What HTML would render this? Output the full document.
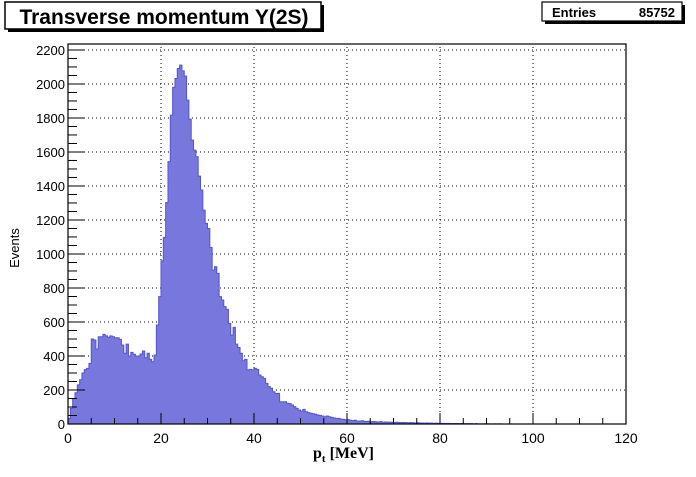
<!DOCTYPE html>
<html><head><meta charset="utf-8"><style>
body{margin:0;background:#fff;width:696px;height:472px;overflow:hidden}
svg text{font-family:"Liberation Sans",sans-serif}
</style></head><body>
<svg id="c" width="696" height="472" xmlns="http://www.w3.org/2000/svg">
<rect x="0" y="0" width="696" height="472" fill="#fff"/>
<g>
<rect x="8" y="5" width="316" height="27" fill="#000"/>
<rect x="5" y="2" width="316" height="27" fill="#fff" stroke="#000" stroke-width="1.5"/>
<text x="164" y="24" font-size="21" font-weight="bold" text-anchor="middle">Transverse momentum Y(2S)</text>
</g>
<g>
<rect x="545" y="5" width="140" height="19" fill="#000"/>
<rect x="542" y="2" width="140" height="19" fill="#fff" stroke="#000" stroke-width="1.2"/>
<text x="552" y="17" font-size="13" font-weight="bold">Entries</text>
<text x="675" y="17" font-size="13" font-weight="bold" text-anchor="end">85752</text>
</g>
<g id="plot"></g>
<text x="19" y="248" font-size="13" text-anchor="middle" transform="rotate(-90 19 248)">Events</text>
<text x="313" y="458" font-size="16" font-weight="bold" font-family="Liberation Serif,serif" style="font-family:'Liberation Serif',serif">p<tspan font-size="11" dy="4">t</tspan><tspan dy="-4"> [MeV]</tspan></text>
</svg>
<script>
const binWidth = 0.5;
const counts = [33,92,150,184,230,260,300,320,327,356,500,494,441,513,513,527,518,510,518,513,507,507,498,465,416,470,400,421,410,400,400,412,429,390,416,380,366,405,582,749,960,1098,1303,1543,1817,1980,2032,2091,2111,2077,2046,1905,1793,1670,1611,1572,1458,1376,1258,1180,1150,1039,905,925,886,749,729,690,674,592,523,568,470,450,416,372,380,318,321,318,
327,321,288,278,268,239,220,210,190,180,180,131,131,131,122,120,112,102,92,82,76,86,72,67,63,60,57,53,51,47,43,47,43,39,35,33,33,29,27,24,26,22,20,22,18,17,19,16,15,16,14,
15,13,12,14,11,12,10,11,10,9,10,9,8,9,8,7,8,7,6,7,6,6,5,6,5,5,4,5,4,4,4,3,4,3,3,3,3,2,3,2,2,2,2,1,2,1,1,1,1,1,1,0,1,0,1,0,0,0,0,0,0,0,0,0,0,0,0,0,0,0,0,0,0,0,0,0,0,0,0,0,0,0,0,0,0,0,0,0,0,0,0,0,0,0,0,0,0,0,0,0,0,0,0,0];
const xTicks = [0,20,40,60,80,100,120];
const yTicks = [0,200,400,600,800,1000,1200,1400,1600,1800,2000,2200];
const X0=68,X1=626,Y0=424,Y1=44,xMax=120,yMax=2235;
const sx=v=>X0+(v/xMax)*(X1-X0);
const sy=v=>Y0-(v/yMax)*(Y0-Y1);
const NS="http://www.w3.org/2000/svg";
const g=document.getElementById('plot');
function mk(t,a,p){const e=document.createElementNS(NS,t);for(const k in a)e.setAttribute(k,a[k]);(p||g).appendChild(e);return e;}
xTicks.forEach(v=>{if(v>0&&v<xMax){const l=mk('line',{x1:sx(v),x2:sx(v),y1:Y0,y2:Y1,stroke:'#000','stroke-dasharray':'1,3','stroke-width':1});

}});
yTicks.forEach(v=>{if(v>0){const l=mk('line',{x1:X0,x2:X1,y1:sy(v),y2:sy(v),stroke:'#000','stroke-dasharray':'1,3','stroke-width':1});

}});
let d='M'+sx(0)+','+sy(0);
counts.forEach((c,i)=>{const xa=sx(i*binWidth),xb=sx((i+1)*binWidth);d+=' L'+xa+','+sy(c)+' L'+xb+','+sy(c);});
d+=' L'+sx(counts.length*binWidth)+','+sy(0)+' Z';
const h=mk('path',{d:d,fill:'#7777dd',stroke:'#5555cc','stroke-width':1});


const f=mk('rect',{x:X0,y:Y1,width:X1-X0,height:Y0-Y1,fill:'none',stroke:'#000','stroke-width':1.2});


for(let v=0;v<=xMax;v+=5){const maj=v%20===0;mk('line',{x1:sx(v),x2:sx(v),y1:Y0,y2:Y0-(maj?11:6),stroke:'#000'});}
xTicks.forEach(v=>{const t=mk('text',{x:sx(v),y:Y0+19,'font-size':14,'text-anchor':'middle'});t.textContent=v;

});
for(let v=0;v<=2200;v+=50){const maj=v%200===0;mk('line',{x1:X0,x2:X0+(maj?17:9),y1:sy(v),y2:sy(v),stroke:'#000'});}
yTicks.forEach(v=>{const t=mk('text',{x:X0-3,y:sy(v)+5,'font-size':13,'text-anchor':'end'});t.textContent=v;

});
</script>
</body></html>
